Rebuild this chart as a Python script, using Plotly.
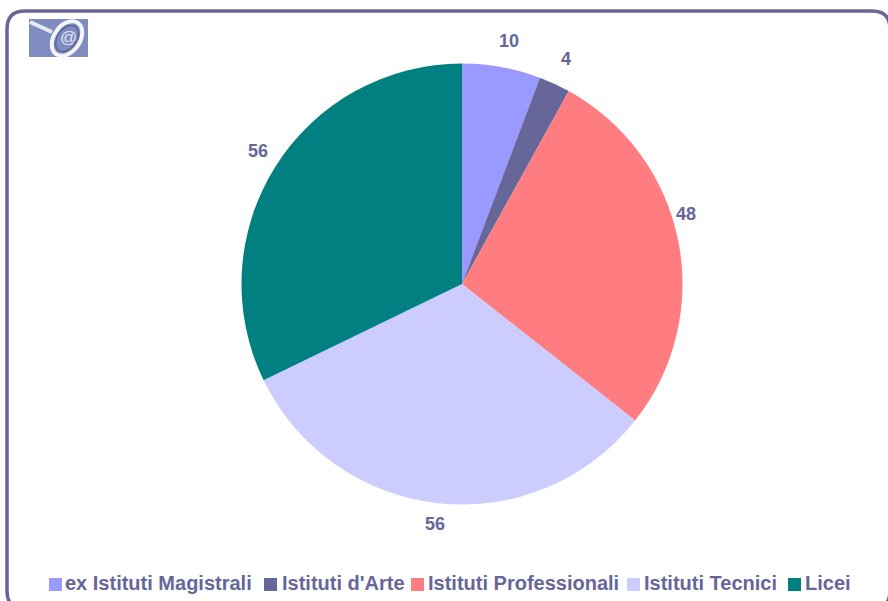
import math
import plotly.graph_objects as go

categories = ["ex Istituti Magistrali", "Istituti d'Arte", "Istituti Professionali", "Istituti Tecnici", "Licei"]
values = [10, 4, 48, 56, 56]
colors = ["#9999FF", "#666699", "#FF7C80", "#CCCCFF", "#008080"]
label_px = [(509, 41.5), (566, 58.5), (686, 213.5), (435, 523.5), (258, 150.5)]
legend_swatch_px = [49, 264, 411, 627, 788]
legend_text_px = [65, 282, 428, 644, 805]

W, H = 888, 601
TXT = "#666699"
FONT = "Liberation Sans"
px = lambda x: x / W
py = lambda y: 1 - y / H

cx, cy, r = 462, 284, 220.5
fig = go.Figure(go.Pie(
    labels=categories, values=values, sort=False, direction="clockwise", rotation=0,
    marker=dict(colors=colors, line=dict(width=0)),
    textinfo="none", hoverinfo="label+value", showlegend=False,
    domain=dict(x=[px(cx - r), px(cx + r)], y=[py(cy + r), py(cy - r)]),
))

annotations = []
for v, (x, y) in zip(values, label_px):
    annotations.append(dict(x=px(x), y=py(y), xref="paper", yref="paper", text=f"<b>{v}</b>",
                            showarrow=False, xanchor="center", yanchor="middle",
                            font=dict(family=FONT, size=18, color=TXT)))
for c, x in zip(categories, legend_text_px):
    annotations.append(dict(x=px(x), y=py(583), xref="paper", yref="paper", text=f"<b>{c}</b>",
                            showarrow=False, xanchor="left", yanchor="middle", borderpad=0, borderwidth=0,
                            font=dict(family=FONT, size=20, color=TXT)))

shapes = []
for col, x in zip(colors, legend_swatch_px):
    shapes.append(dict(type="rect", xref="paper", yref="paper", x0=px(x), x1=px(x + 13), y0=py(578), y1=py(591),
                       fillcolor=col, line=dict(width=0)))

# rounded frame, running past the right and bottom page edges
L, T, R, B, c = 7, 11, 890, 609, 18
frame = (f"M {px(L)} {py(T + c)} Q {px(L)} {py(T)} {px(L + c)} {py(T)} L {px(R - c)} {py(T)} "
         f"Q {px(R)} {py(T)} {px(R)} {py(T + c)} L {px(R)} {py(B - c)} Q {px(R)} {py(B)} {px(R - c)} {py(B)} "
         f"L {px(L + c)} {py(B)} Q {px(L)} {py(B)} {px(L)} {py(B - c)} Z")
shapes.append(dict(type="path", xref="paper", yref="paper", path=frame, line=dict(color=TXT, width=3.5)))

# logo: a magnifying glass with an @ sign
shapes.append(dict(type="rect", xref="paper", yref="paper", x0=px(29), x1=px(88), y0=py(19), y1=py(57),
                   fillcolor="#7E8CC0", line=dict(width=0)))
shapes.append(dict(type="line", xref="paper", yref="paper", x0=px(30), y0=py(22), x1=px(52), y1=py(32),
                   line=dict(color="#E8E8F0", width=4)))


def ellipse(ex, ey, a, b, deg, col, w):
    t = math.radians(deg)
    k = 0.5523
    pts = [(a, 0), (a, k * b), (k * a, b), (0, b), (-k * a, b), (-a, k * b), (-a, 0),
           (-a, -k * b), (-k * a, -b), (0, -b), (k * a, -b), (a, -k * b), (a, 0)]
    q = [(ex + x * math.cos(t) - y * math.sin(t), ey + x * math.sin(t) + y * math.cos(t)) for x, y in pts]
    s = f"M {px(q[0][0])} {py(q[0][1])} "
    for i in range(1, 13, 3):
        s += "C " + " ".join(f"{px(x)} {py(y)}" for x, y in q[i:i + 3]) + " "
    return dict(type="path", xref="paper", yref="paper", path=s + "Z", line=dict(color=col, width=w))


shapes.append(ellipse(67, 38.5, 19, 13, -55, "#F4F4FA", 4))
shapes.append(ellipse(67, 38.5, 14.5, 9.5, -55, "#5E6694", 1.5))

annotations.append(dict(x=px(68), y=py(38), xref="paper", yref="paper", text="@", showarrow=False,
                        xanchor="center", yanchor="middle",
                        font=dict(family=FONT, size=17, color="#E4E4F2")))

fig.update_layout(width=W, height=H, margin=dict(l=0, r=0, t=0, b=0), autosize=False,
                  paper_bgcolor="white", showlegend=False, annotations=annotations, shapes=shapes)
fig.write_html("out.html", config={"displayModeBar": False},
               post_script="document.body.style.margin='0';document.documentElement.style.overflow='hidden';")
